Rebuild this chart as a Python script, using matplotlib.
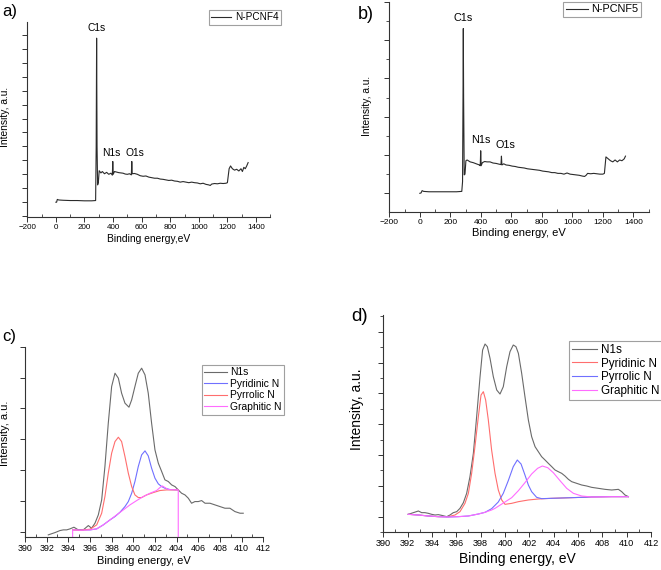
import matplotlib
matplotlib.use("Agg")
import matplotlib.pyplot as plt
from matplotlib.ticker import MultipleLocator, NullFormatter

plt.rcParams['font.family'] = ['Liberation Sans', 'DejaVu Sans']

# ---------------- data ----------------
# Panel a: survey N-PCNF4
a_x = [0, 5, 10, 20, 50, 100, 150, 200, 250, 278, 282, 285, 288, 292, 297, 303, 315, 325, 340, 355,
       370, 385, 395, 398, 401, 410, 425, 440, 455, 470, 485, 500, 515, 528, 531, 534, 550, 570, 590,
       610, 630, 650, 670, 690, 710, 730, 750, 770, 790, 810, 830, 850, 870, 890, 910, 930, 950, 970,
       990, 1010, 1030, 1050, 1070, 1080, 1090, 1110, 1130, 1150, 1170, 1190, 1200, 1212, 1222, 1235,
       1250, 1265, 1280, 1295, 1305, 1315, 1325, 1335, 1345]
a_y = [0.0, 0.0, 0.1, 0.08, 0.07, 0.06, 0.06, 0.05, 0.05, 0.06, 2.0, 5.88, 2.0, 0.62, 0.7, 1.13, 1.05,
       1.1, 1.02, 1.07, 1.0, 1.04, 0.97, 1.46, 1.0, 1.1, 1.08, 1.06, 1.05, 1.04, 1.01, 1.0, 1.02, 0.98,
       1.46, 1.02, 1.03, 1.0, 0.95, 0.93, 0.94, 0.9, 0.88, 0.86, 0.86, 0.83, 0.82, 0.80, 0.78, 0.79,
       0.76, 0.75, 0.72, 0.74, 0.72, 0.70, 0.72, 0.70, 0.69, 0.66, 0.68, 0.64, 0.62, 0.60, 0.65, 0.67,
       0.66, 0.68, 0.67, 0.68, 0.70, 1.2, 1.3, 1.2, 1.15, 1.18, 1.12, 1.2, 1.1, 1.25, 1.2, 1.3, 1.42]

# Panel b: survey N-PCNF5
b_x = [0, 8, 15, 25, 60, 120, 180, 240, 275, 280, 283, 285, 287, 291, 296, 302, 310, 330, 350, 370,
       390, 396, 399, 402, 410, 425, 440, 460, 480, 500, 520, 532, 535, 538, 550, 565, 585, 605, 625,
       645, 665, 685, 705, 725, 745, 765, 785, 805, 825, 845, 865, 885, 905, 925, 945, 965, 985, 1005,
       1025, 1045, 1065, 1080, 1090, 1100, 1120, 1140, 1160, 1180, 1200, 1210, 1220, 1235, 1250, 1265,
       1280, 1295, 1310, 1325, 1340, 1348]
b_y = [0.0, 0.01, 0.07, 0.05, 0.04, 0.04, 0.04, 0.04, 0.05, 0.3, 2.5, 4.3, 2.5, 0.48, 0.5, 0.85, 0.87,
       0.82, 0.8, 0.77, 0.74, 0.72, 1.11, 0.72, 0.8, 0.83, 0.82, 0.82, 0.79, 0.78, 0.76, 0.75, 0.97,
       0.74, 0.77, 0.74, 0.73, 0.71, 0.70, 0.68, 0.67, 0.66, 0.64, 0.63, 0.62, 0.61, 0.60, 0.58, 0.57,
       0.56, 0.54, 0.54, 0.52, 0.52, 0.50, 0.53, 0.50, 0.49, 0.48, 0.47, 0.45, 0.44, 0.47, 0.52, 0.51,
       0.52, 0.51, 0.50, 0.50, 0.52, 0.95, 0.9, 0.85, 0.82, 0.87, 0.82, 0.87, 0.85, 0.9, 0.97]

# Panel c: N1s high resolution (N-PCNF4)
c_n1s_x = [392.15, 392.77, 393.23, 393.54, 393.85, 394.15, 394.52, 394.92, 395.38, 395.85, 396.15,
           396.46, 396.77, 397.08, 397.38, 397.69, 398.00, 398.31, 398.62, 398.92, 399.23, 399.60,
           399.85, 400.15, 400.46, 400.77, 401.08, 401.38, 401.69, 402.00, 402.31, 402.62, 402.92,
           403.23, 403.54, 403.85, 404.15, 404.46, 404.77, 405.08, 405.38, 405.69, 406.00, 406.31,
           406.62, 407.08, 407.54, 408.00, 408.46, 408.92, 409.38, 409.85, 410.15]
c_n1s_y = [0.449, 0.486, 0.519, 0.530, 0.530, 0.546, 0.573, 0.530, 0.530, 0.600, 0.557, 0.638, 0.773,
           1.016, 1.557, 2.259, 2.854, 3.070, 2.989, 2.746, 2.584, 2.519, 2.638, 2.854, 3.070, 3.151,
           3.043, 2.746, 2.259, 1.827, 1.611, 1.476, 1.341, 1.314, 1.259, 1.232, 1.178, 1.124, 1.097,
           1.043, 0.962, 0.989, 0.989, 1.005, 0.962, 0.962, 0.935, 0.908, 0.881, 0.881, 0.827, 0.800,
           0.800]
c_pyridinic_x = [394.40, 396.00, 396.62, 397.23, 397.85, 398.31, 398.77, 399.23, 399.54, 399.85, 400.15,
                 400.46, 400.77, 401.08, 401.38, 401.69, 402.00, 402.31, 402.62, 402.92, 403.38, 404.15]
c_pyridinic_y = [0.530, 0.530, 0.546, 0.611, 0.692, 0.746, 0.816, 0.908, 0.989, 1.124, 1.314, 1.557,
                 1.746, 1.811, 1.730, 1.530, 1.368, 1.276, 1.232, 1.205, 1.184, 1.178]
c_pyrrolic_x = [394.40, 395.08, 396.00, 396.62, 397.08, 397.38, 397.69, 398.00, 398.31, 398.62, 398.92,
                399.23, 399.54, 399.85, 400.15, 400.46, 400.77, 401.23, 401.85, 402.46, 403.08, 404.15]
c_pyrrolic_y = [0.530, 0.524, 0.541, 0.611, 0.800, 1.070, 1.449, 1.773, 1.962, 2.032, 1.962, 1.719,
                1.449, 1.232, 1.097, 1.054, 1.054, 1.097, 1.135, 1.168, 1.178, 1.178]
c_graphitic_x = [394.40, 394.40, 395.08, 396.00, 396.62, 397.23, 397.85, 398.46, 399.08, 399.69, 400.31,
                 400.92, 401.54, 402.15, 402.46, 402.68, 402.92, 403.23, 404.15, 404.15]
c_graphitic_y = [0.0, 0.530, 0.524, 0.530, 0.546, 0.611, 0.692, 0.773, 0.854, 0.935, 1.005, 1.070,
                 1.124, 1.168, 1.216, 1.243, 1.216, 1.184, 1.178, 0.0]

# Panel d: N1s high resolution (N-PCNF5)
d_n1s_x = [392.05, 392.47, 392.88, 393.15, 393.42, 393.70, 393.97, 394.25, 394.52, 394.79, 395.21,
           395.48, 395.75, 396.03, 396.30, 396.58, 396.85, 397.12, 397.40, 397.67, 397.95, 398.16,
           398.36, 398.55, 398.77, 399.04, 399.32, 399.59, 399.86, 400.14, 400.41, 400.68, 400.90,
           401.10, 401.37, 401.64, 401.92, 402.19, 402.47, 402.74, 403.01, 403.29, 403.56, 403.84,
           404.11, 404.38, 404.66, 404.93, 405.21, 405.48, 405.89, 406.30, 406.71, 407.12, 407.67,
           408.22, 408.77, 409.32, 409.59, 409.86, 410.14]
d_n1s_y = [0.076, 0.130, 0.184, 0.130, 0.130, 0.108, 0.076, 0.054, 0.065, 0.043, 0.0, 0.054, 0.130,
           0.162, 0.270, 0.454, 0.757, 1.297, 2.054, 3.243, 4.541, 5.405, 5.600, 5.514, 5.135, 4.541,
           4.108, 3.978, 4.216, 4.865, 5.351, 5.568, 5.514, 5.297, 4.649, 3.892, 3.135, 2.595, 2.270,
           2.108, 1.946, 1.838, 1.730, 1.622, 1.514, 1.459, 1.405, 1.319, 1.211, 1.135, 1.081, 1.027,
           0.995, 0.951, 0.919, 0.886, 0.865, 0.886, 0.811, 0.703, 0.649]
d_pyridinic_x = [392.05, 392.88, 393.70, 394.52, 395.34, 395.89, 396.30, 396.71, 396.99, 397.26, 397.53,
                 397.81, 398.03, 398.22, 398.41, 398.63, 398.90, 399.18, 399.45, 399.73, 400.00, 400.55,
                 401.10, 401.92, 402.74, 403.84, 405.48, 407.12, 408.77, 410.14]
d_pyridinic_y = [0.076, 0.054, 0.022, 0.0, 0.0, 0.054, 0.162, 0.432, 0.757, 1.405, 2.270, 3.243, 3.946,
                 4.054, 3.784, 3.135, 2.162, 1.405, 0.865, 0.541, 0.400, 0.432, 0.486, 0.541, 0.573,
                 0.595, 0.616, 0.638, 0.649, 0.649]
d_pyrrolic_x = [392.05, 392.88, 393.70, 394.52, 395.34, 396.16, 396.99, 397.81, 398.36, 398.90, 399.45,
                399.86, 400.27, 400.68, 401.01, 401.32, 401.64, 401.92, 402.19, 402.60, 403.01, 403.84,
                405.48, 407.12, 408.77, 410.14]
d_pyrrolic_y = [0.076, 0.054, 0.022, 0.0, -0.011, 0.0, 0.022, 0.086, 0.141, 0.259, 0.476, 0.757, 1.168,
                1.622, 1.838, 1.708, 1.351, 1.027, 0.811, 0.627, 0.584, 0.595, 0.616, 0.638, 0.649, 0.649]
d_graphitic_x = [392.05, 392.88, 393.70, 394.52, 395.34, 396.16, 396.99, 397.81, 398.36, 398.90, 399.18,
                 400.00, 400.55, 401.10, 401.64, 402.19, 402.68, 403.07, 403.51, 403.97, 404.52, 405.07,
                 405.62, 406.30, 407.12, 408.77, 410.14]
d_graphitic_y = [0.076, 0.054, 0.022, 0.0, -0.011, 0.0, 0.022, 0.086, 0.141, 0.216, 0.270, 0.476, 0.616,
                 0.843, 1.103, 1.384, 1.568, 1.643, 1.589, 1.427, 1.168, 0.919, 0.757, 0.670, 0.638,
                 0.649, 0.649]

survey_xticks = [-200, 0, 200, 400, 600, 800, 1000, 1200, 1400]
hr_xticks = [390, 392, 394, 396, 398, 400, 402, 404, 406, 408, 410, 412]

GRAY = '#6a6a6a'
RED = '#ff6e6e'
BLUE = '#7070ff'
MAG = '#ff6cff'
SPINE = '#333333'

fig = plt.figure(figsize=(6.61, 5.70), dpi=100)


def style_axes(ax, xmaj, xmin, ymaj, ymin, tick_fs):
    for s in ('top', 'right'):
        ax.spines[s].set_visible(False)
    for s in ('left', 'bottom'):
        ax.spines[s].set_color(SPINE)
        ax.spines[s].set_linewidth(0.8)
    ax.xaxis.set_major_locator(MultipleLocator(xmaj))
    ax.xaxis.set_minor_locator(MultipleLocator(xmin))
    ax.yaxis.set_major_locator(MultipleLocator(ymaj))
    ax.yaxis.set_minor_locator(MultipleLocator(ymin))
    ax.yaxis.set_major_formatter(NullFormatter())
    ax.tick_params(axis='x', which='major', direction='out', length=3.5, width=0.7,
                   color=SPINE, labelsize=tick_fs, pad=1.5)
    ax.tick_params(axis='x', which='minor', direction='in', length=2, width=0.6, color=SPINE)
    ax.tick_params(axis='y', which='major', direction='out', length=3.5, width=0.7, color=SPINE)
    ax.tick_params(axis='y', which='minor', direction='out', length=2.5, width=0.6, color=SPINE)


def legend(ax, handles_labels, anchor, fs, hl):
    lg = ax.legend(*handles_labels, loc='upper left', bbox_to_anchor=anchor,
                   bbox_transform=fig.transFigure, fontsize=fs, frameon=True, fancybox=False,
                   handlelength=hl, handletextpad=0.35, borderpad=0.25, labelspacing=0.15,
                   borderaxespad=0)
    lg.get_frame().set_edgecolor('#888888')
    lg.get_frame().set_linewidth(0.8)
    return lg

# ---------------- panel a ----------------
axa = fig.add_axes([0.0413, 0.6193, 0.3676, 0.3426])
la, = axa.plot(a_x, a_y, color='#2b2b2b', lw=0.8)
axa.set_xlim(-200, 1500)
axa.set_ylim(-0.53, 6.47)
style_axes(axa, 200, 100, 0.5, 0.5, 5.8)
axa.set_xticks(survey_xticks)
axa.set_xlabel('Binding energy,eV', fontsize=7.4, labelpad=2)
axa.set_ylabel('Intensity, a.u.', fontsize=7.4)
axa.yaxis.set_label_coords(-0.071, 0.512)
axa.text(285, 6.05, 'C1s', fontsize=7.4, ha='center', va='bottom')
axa.text(385, 1.6, 'N1s', fontsize=7.4, ha='center', va='bottom')
axa.text(555, 1.6, 'O1s', fontsize=7.4, ha='center', va='bottom')
legend(axa, ([la], ['N-PCNF4']), (0.316, 0.983), 7.2, 2.0)
fig.text(0.003, 0.98, 'a)', fontsize=12, ha='left', va='center')

# ---------------- panel b ----------------
axb = fig.add_axes([0.589, 0.6286, 0.3923, 0.3684])
lb, = axb.plot(b_x, b_y, color='#2b2b2b', lw=0.8)
axb.set_xlim(-200, 1500)
axb.set_ylim(-0.48, 5.0)
style_axes(axb, 200, 100, 1, 0.5, 6.0)
axb.set_xticks(survey_xticks)
axb.set_xlabel('Binding energy, eV', fontsize=8, labelpad=2)
axb.set_ylabel('Intensity, a.u.', fontsize=7.4)
axb.yaxis.set_label_coords(-0.067, 0.503)
axb.text(285, 4.45, 'C1s', fontsize=7.8, ha='center', va='bottom')
axb.text(400, 1.25, 'N1s', fontsize=7.8, ha='center', va='bottom')
axb.text(560, 1.12, 'O1s', fontsize=7.8, ha='center', va='bottom')
legend(axb, ([lb], ['N-PCNF5']), (0.852, 0.997), 7.8, 2.0)
fig.text(0.542, 0.975, 'b)', fontsize=13, ha='left', va='center')

# ---------------- panel c ----------------
axc = fig.add_axes([0.0378, 0.0574, 0.3605, 0.3344])
c1, = axc.plot(c_n1s_x, c_n1s_y, color=GRAY, lw=0.8)
c2, = axc.plot(c_pyridinic_x, c_pyridinic_y, color=BLUE, lw=0.8)
c3, = axc.plot(c_pyrrolic_x, c_pyrrolic_y, color=RED, lw=0.8)
c4, = axc.plot(c_graphitic_x, c_graphitic_y, color=MAG, lw=0.8)
axc.set_xlim(390, 412)
axc.set_ylim(0.41, 3.5)
style_axes(axc, 2, 1, 0.5, 0.5, 6.4)
axc.set_xticks(hr_xticks)
axc.set_xlabel('Binding energy, eV', fontsize=8, labelpad=2)
axc.set_ylabel('Intensity, a.u.', fontsize=8)
axc.yaxis.set_label_coords(-0.063, 0.547)
legend(axc, ([c1, c2, c3, c4], ['N1s', 'Pyridinic N', 'Pyrrolic N', 'Graphitic N']),
       (0.305, 0.360), 7.4, 2.2)
fig.text(0.003, 0.41, 'c)', fontsize=12, ha='left', va='center')

# ---------------- panel d ----------------
axd = fig.add_axes([0.5799, 0.0661, 0.405, 0.3812])
d1, = axd.plot(d_n1s_x, d_n1s_y, color=GRAY, lw=0.8)
d2, = axd.plot(d_pyridinic_x, d_pyridinic_y, color=RED, lw=0.8)
d3, = axd.plot(d_pyrrolic_x, d_pyrrolic_y, color=BLUE, lw=0.8)
d4, = axd.plot(d_graphitic_x, d_graphitic_y, color=MAG, lw=0.8)
axd.set_xlim(390, 412)
axd.set_ylim(-0.508, 6.54)
style_axes(axd, 2, 1, 1, 0.5, 6.6)
axd.set_xticks(hr_xticks)
axd.set_xlabel('Binding energy, eV', fontsize=10, labelpad=3)
axd.set_ylabel('Intensity, a.u.', fontsize=10)
axd.yaxis.set_label_coords(-0.074, 0.567)
legend(axd, ([d1, d2, d3, d4], ['N1s', 'Pyridinic N', 'Pyrrolic N', 'Graphitic N']),
       (0.861, 0.402), 8.4, 2.1)
fig.text(0.531, 0.444, 'd)', fontsize=13.5, ha='left', va='center')

fig.savefig('out.png', dpi=100)
